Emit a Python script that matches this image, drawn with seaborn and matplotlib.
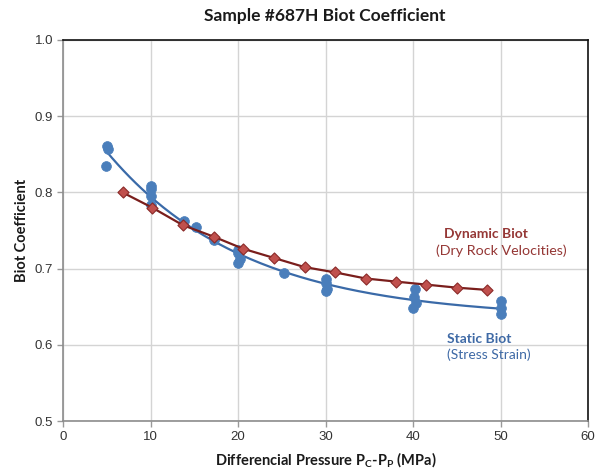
import numpy as np
import pandas as pd
import matplotlib
matplotlib.use("Agg")
import matplotlib.pyplot as plt
import seaborn as sns

# ---- data ----
static_x = [5.0, 5.1, 4.9,
            10.1, 10.1, 10.0, 10.0,
            13.8, 15.2, 17.2,
            20.0, 20.0, 20.2, 20.0,
            25.2,
            30.1, 30.0, 30.2, 30.0,
            40.2, 40.1, 40.3, 40.0,
            50.0, 50.0, 50.1]
static_y = [0.861, 0.857, 0.834,
            0.808, 0.804, 0.795, 0.783,
            0.762, 0.755, 0.738,
            0.724, 0.720, 0.713, 0.708,
            0.694,
            0.686, 0.681, 0.673, 0.671,
            0.673, 0.663, 0.655, 0.648,
            0.657, 0.648, 0.641]

dyn_x = [6.8, 10.2, 13.7, 17.2, 20.6, 24.1, 27.6, 31.1, 34.6, 38.0, 41.5, 45.0, 48.5]
dyn_y = [0.800, 0.780, 0.757, 0.742, 0.726, 0.714, 0.702, 0.695, 0.687, 0.683, 0.679, 0.675, 0.672]

x_ticks = [0, 10, 20, 30, 40, 50, 60]
y_ticks = [0.5, 0.6, 0.7, 0.8, 0.9, 1.0]

title = "Sample #687H Biot Coefficient"
xlabel = "Differencial Pressure P$_\\mathregular{C}$-P$_\\mathregular{P}$ (MPa)"
ylabel = "Biot Coefficient"

# ---- trend line for static data: y = c + a*exp(-k x), least squares ----
sx = np.array(static_x); sy = np.array(static_y)
best = None
for k in np.linspace(0.01, 0.3, 600):
    A = np.column_stack([np.ones_like(sx), np.exp(-k * sx)])
    coef, res, *_ = np.linalg.lstsq(A, sy, rcond=None)
    err = np.sum((A @ coef - sy) ** 2)
    if best is None or err < best[0]:
        best = (err, k, coef)
_, kf, (cf, af) = best
fit_x = np.linspace(min(static_x), max(static_x), 200)
fit_y = cf + af * np.exp(-kf * fit_x)

static_df = pd.DataFrame({"x": static_x, "y": static_y})
dyn_df = pd.DataFrame({"x": dyn_x, "y": dyn_y})
fit_df = pd.DataFrame({"x": fit_x, "y": fit_y})

sns.set_style("white")
plt.rcParams["font.family"] = ["Lato", "DejaVu Sans"]

fig = plt.figure(figsize=(6.03, 4.72), dpi=100)
ax = fig.add_axes([63/603, 1-421/472, (588-63)/603, (421-40)/472])

ax.grid(True, color="#D4D4D4", linewidth=1.0, zorder=0)
ax.set_axisbelow(True)

blue_pt = "#4A7EBB"
blue_line = "#3A6AA8"
red_pt = "#C0504D"
red_edge = "#8B2A28"
red_line = "#7A1E1C"

sns.lineplot(data=fit_df, x="x", y="y", ax=ax, color=blue_line, linewidth=1.6,
             sort=False, estimator=None, zorder=3)
sns.scatterplot(data=static_df, x="x", y="y", ax=ax, color=blue_pt, s=50,
                edgecolor=blue_pt, linewidth=0.5, zorder=4)
sns.lineplot(data=dyn_df, x="x", y="y", ax=ax, color=red_line, linewidth=1.6,
             sort=False, estimator=None, zorder=5)
sns.scatterplot(data=dyn_df, x="x", y="y", ax=ax, color=red_pt, marker="D", s=32,
                edgecolor=red_edge, linewidth=0.8, zorder=6)

ax.set_xlim(0, 60)
ax.set_ylim(0.5, 1.0)
ax.set_xticks(x_ticks)
ax.set_yticks(y_ticks)
ax.set_xticklabels([str(t) for t in x_ticks])
ax.set_yticklabels([f"{t:.1f}" for t in y_ticks])
for lab in ax.get_xticklabels() + ax.get_yticklabels():
    lab.set_family(["Liberation Sans", "DejaVu Sans"])
    lab.set_fontsize(9.5)
    lab.set_color("#333333")
ax.tick_params(axis="both", direction="out", length=4, width=1, color="#999999",
               bottom=True, left=True, pad=3)

for side in ["top", "right"]:
    ax.spines[side].set_visible(True)
    ax.spines[side].set_color("#111111")
    ax.spines[side].set_linewidth(1.2)
for side in ["left", "bottom"]:
    ax.spines[side].set_color("#8C8C8C")
    ax.spines[side].set_linewidth(1.2)

ax.set_xlabel(xlabel, fontsize=10.5, fontweight="bold", color="#1a1a1a", labelpad=6)
ax.set_ylabel(ylabel, fontsize=10.5, fontweight="bold", color="#1a1a1a", labelpad=4)
fig.text(325/603, 1-16/472, title, ha="center", va="center", fontsize=12.5,
         fontweight="bold", color="#1a1a1a")

ax.text(43.5, 0.745, "Dynamic Biot", color="#953735", fontsize=10, fontweight="bold",
        ha="left", va="center")
ax.text(42.6, 0.724, "(Dry Rock Velocities)", color="#953735", fontsize=10.3,
        ha="left", va="center")
ax.text(43.9, 0.608, "Static Biot", color="#3F6AA6", fontsize=10, fontweight="bold",
        ha="left", va="center")
ax.text(43.9, 0.587, "(Stress Strain)", color="#3F6AA6", fontsize=10,
        ha="left", va="center")

fig.savefig("out.png", dpi=100)
